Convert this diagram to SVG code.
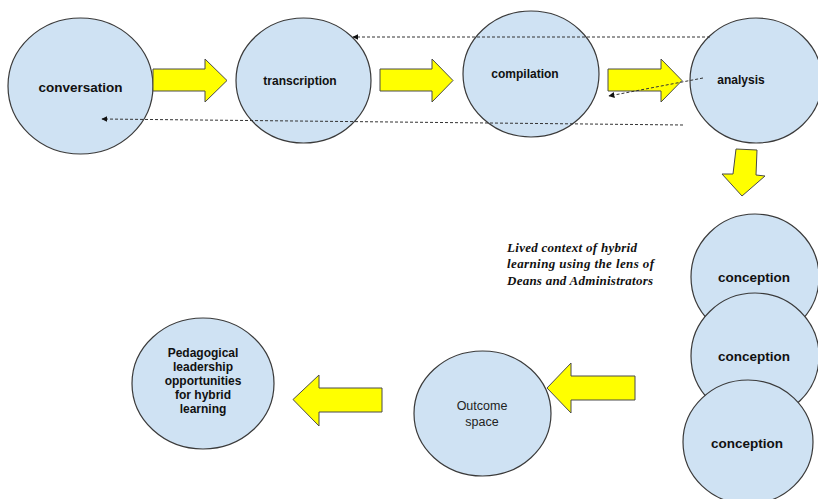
<svg xmlns="http://www.w3.org/2000/svg" width="818" height="499" viewBox="0 0 818 499">
<defs>
<style>
.node{fill:#cfe2f3;stroke:#3a3a3a;stroke-width:1.2}
.arr{fill:#ffff00;stroke:#4a4a4a;stroke-width:1}
.lbl{font-family:"Liberation Sans",Arial,sans-serif;font-weight:bold;fill:#111;text-anchor:middle}
.reg{font-family:"Liberation Sans",Arial,sans-serif;fill:#222;text-anchor:middle;font-size:12.5px}
.note{font-family:"Liberation Serif","Times New Roman",serif;font-weight:bold;font-style:italic;font-size:13px;fill:#111}
.dot{fill:none;stroke:#333;stroke-width:1;stroke-dasharray:3 2;marker-end:url(#ah)}
</style>
<marker id="ah" viewBox="0 0 10 10" refX="9" refY="5" markerWidth="6" markerHeight="6" orient="auto" markerUnits="userSpaceOnUse">
<path d="M0,0 L10,5 L0,10 z" fill="#111"/>
</marker>
</defs>
<rect width="818" height="499" fill="#fff"/>

<g id="conversation"><ellipse class="node" cx="80.5" cy="86" rx="72.5" ry="68"/><text class="lbl" x="80.5" y="91.5" font-size="13.5">conversation</text></g>
<g id="transcription"><ellipse class="node" cx="303.5" cy="80.5" rx="67.5" ry="62.5"/><text class="lbl" x="300" y="84.5" font-size="12">transcription</text></g>
<g id="compilation"><ellipse class="node" cx="531" cy="74" rx="68" ry="63"/><text class="lbl" x="525" y="77.5" font-size="12">compilation</text></g>
<g id="analysis"><ellipse class="node" cx="756" cy="80.5" rx="66" ry="62.5"/><text class="lbl" x="741" y="84" font-size="12">analysis</text></g>
<g id="conception1"><ellipse class="node" cx="755" cy="277" rx="64" ry="63"/><text class="lbl" x="754" y="281.5" font-size="13.5">conception</text></g>
<g id="conception2"><ellipse class="node" cx="755" cy="356" rx="64" ry="63"/><text class="lbl" x="754" y="361" font-size="13.5">conception</text></g>
<g id="conception3"><ellipse class="node" cx="748" cy="442" rx="65" ry="62"/><text class="lbl" x="747" y="448" font-size="13.5">conception</text></g>
<g id="outcome"><ellipse class="node" cx="482.5" cy="413.5" rx="68.5" ry="62.5"/><text class="reg" x="482" y="410">Outcome</text><text class="reg" x="482" y="426">space</text></g>
<g id="pedagogical"><ellipse class="node" cx="203" cy="383.5" rx="71" ry="65.5"/>
<text class="lbl" font-size="12" x="203" y="357">Pedagogical</text>
<text class="lbl" font-size="12" x="203" y="371">leadership</text>
<text class="lbl" font-size="12" x="203" y="385">opportunities</text>
<text class="lbl" font-size="12" x="203" y="398.5">for hybrid</text>
<text class="lbl" font-size="12" x="203" y="412.5">learning</text>
</g>

<g id="note">
<text class="note" x="507" y="251.5" textLength="130" lengthAdjust="spacing">Lived context of hybrid</text>
<text class="note" x="507" y="268" textLength="147" lengthAdjust="spacing">learning using the lens of</text>
<text class="note" x="507" y="285" textLength="146" lengthAdjust="spacing">Deans and Administrators</text>
</g>

<g id="connectors">
<polygon class="arr" points="153,69 205,69 205,59 227,80.5 205,102 205,91 153,91"/>
<polygon class="arr" points="380,69 432,69 432,59 453,80.5 432,102 432,91 380,91"/>
<polygon class="arr" points="608,69 661,69 661,59 682,80.5 661,102 661,91 608,91"/>
<polygon class="arr" points="736,149 757,150 756,175 765,176 742,196 722,174 733,174"/>
<polygon class="arr" points="635,376 571,376 571,363 547,388 571,413 571,400 635,400"/>
<polygon class="arr" points="382,388 319,388 319,375 293,399.5 319,426 319,412 382,412"/>
<path class="dot" d="M710,37 L353,37"/>
<path class="dot" d="M683,125 L102,119"/>
<path class="dot" d="M703,78 L609,96"/>
</g>
</svg>
